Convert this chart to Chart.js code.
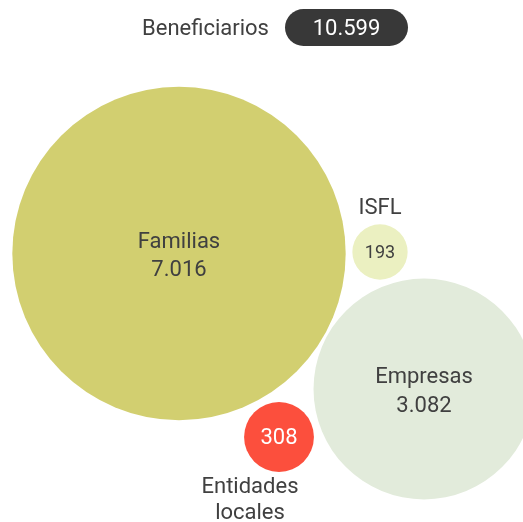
<!DOCTYPE html>
<html>
<head>
<meta charset="utf-8">
<script src="https://cdn.jsdelivr.net/npm/chart.js@4"></script>
<style>
  html, body { margin: 0; padding: 0; background: #ffffff; overflow: hidden; }
  #bubbleChart { display: block; }
</style>
</head>
<body>
<canvas id="bubbleChart" width="523" height="522"></canvas>
<script>
// Data
const categories = ['Familias', 'Empresas', 'ISFL', 'Entidades locales'];
const values = [7016, 3082, 193, 308];
const valueLabels = ['7.016', '3.082', '193', '308'];
const totalLabel = '10.599';
const colors = ['#d2cf70', '#e2ebdb', '#ebf0c1', '#fc4f3d'];

// Layout of the packed circles (in canvas units)
const posX = [179, 424, 380, 279];
const posY = [253.5, 389, 252, 437];
const radiusScale = 1.99; // px per sqrt(value)

const FONT = 'Roboto, "Noto Sans", sans-serif';

const labelPlugin = {
    id: 'bubbleLabels',
    afterDatasetsDraw(chart) {
        const ctx = chart.ctx;
        const meta = chart.getDatasetMeta(0);
        ctx.save();
        ctx.textAlign = 'center';
        ctx.textBaseline = 'middle';

        // Header
        ctx.font = '22px ' + FONT;
        ctx.fillStyle = '#404040';
        ctx.fillText('Beneficiarios', 205.5, 29);
        ctx.fillStyle = '#383838';
        ctx.beginPath();
        ctx.roundRect(285, 9, 123, 37, 18.5);
        ctx.fill();
        ctx.fillStyle = '#ffffff';
        ctx.fillText(totalLabel, 346.5, 29);

        meta.data.forEach((el, i) => {
            const x = el.x, y = el.y;
            const r = el.options.radius;
            ctx.fillStyle = '#404040';
            if (i === 0 || i === 1) {
                ctx.font = '22px ' + FONT;
                ctx.fillText(categories[i], x, y - 11.5);
                ctx.fillText(valueLabels[i], x, y + 17);
            } else if (i === 2) {
                ctx.font = '22px ' + FONT;
                ctx.fillText(categories[i], x, y - r - 16);
                ctx.font = '18px ' + FONT;
                ctx.fillText(valueLabels[i], x, y + 1.5);
            } else {
                ctx.font = '22px ' + FONT;
                ctx.fillStyle = '#ffffff';
                ctx.fillText(valueLabels[i], x, y + 1);
                ctx.fillStyle = '#404040';
                const parts = categories[i].split(' ');
                ctx.fillText(parts[0], x - 29, y + r + 16);
                ctx.fillText(parts[1], x - 29, y + r + 42);
            }
        });
        ctx.restore();
    }
};

new Chart(document.getElementById('bubbleChart'), {
    type: 'bubble',
    data: {
        labels: categories,
        datasets: [{
            data: values.map((v, i) => ({ x: posX[i], y: posY[i], r: radiusScale * Math.sqrt(v) })),
            backgroundColor: colors,
            borderWidth: 0,
            hoverBorderWidth: 0,
            clip: false
        }]
    },
    options: {
        responsive: false,
        animation: false,
        events: [],
        layout: { padding: 0, autoPadding: false },
        plugins: {
            legend: { display: false },
            tooltip: { enabled: false }
        },
        scales: {
            x: { type: 'linear', min: 0, max: 523, display: false },
            y: { type: 'linear', min: 0, max: 522, reverse: true, display: false }
        }
    },
    plugins: [labelPlugin]
});
</script>
</body>
</html>
